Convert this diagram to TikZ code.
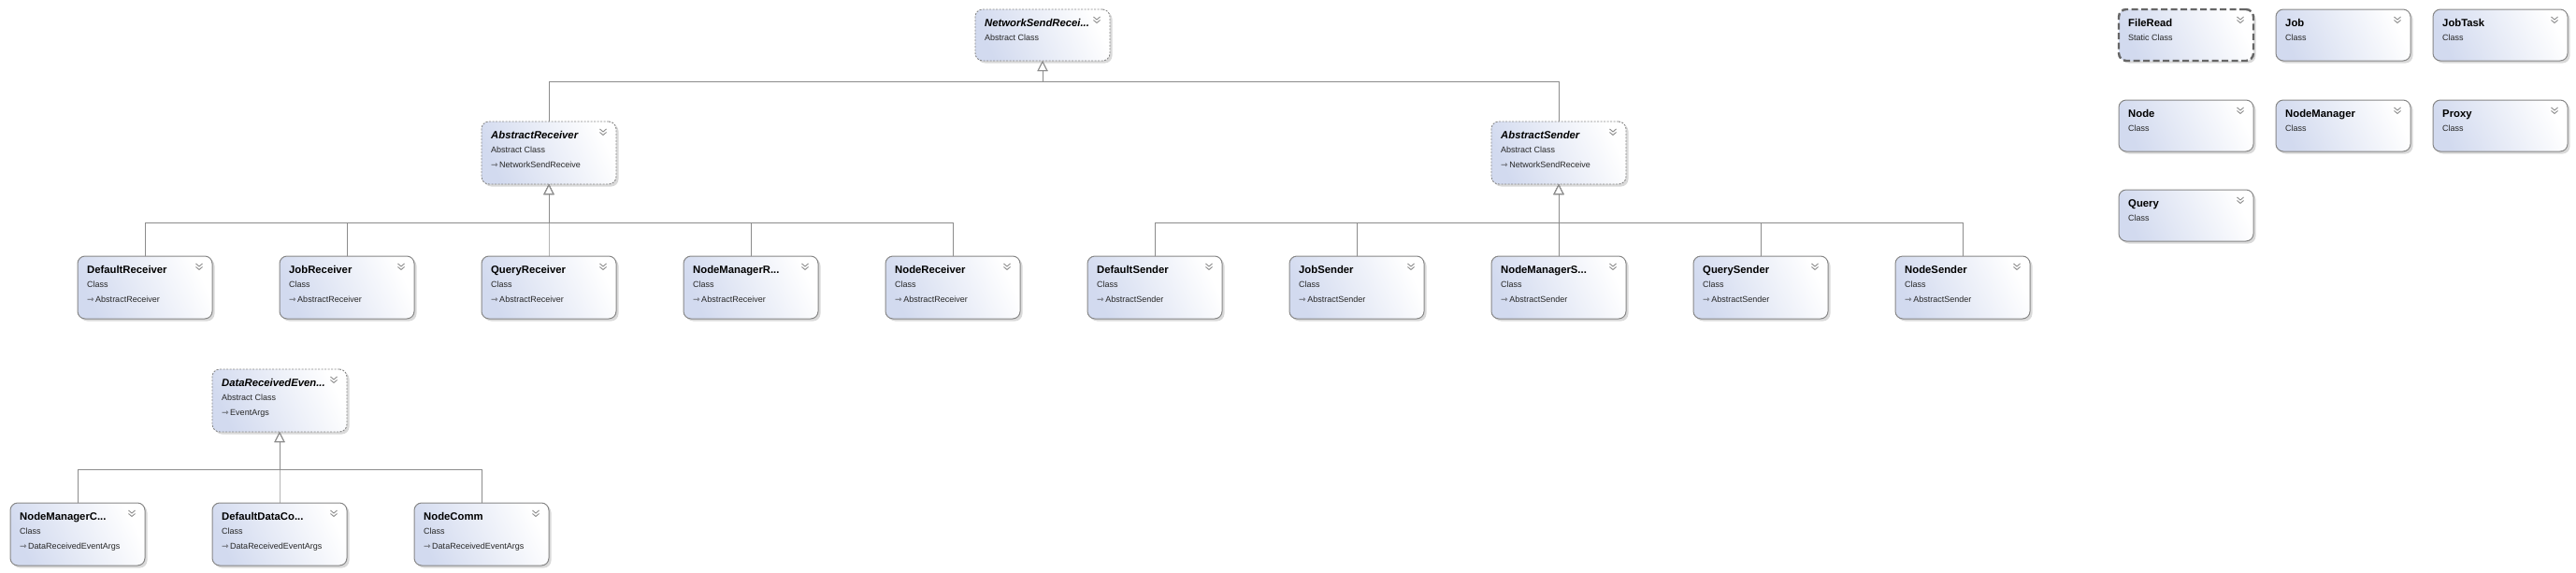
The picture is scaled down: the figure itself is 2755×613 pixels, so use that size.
\documentclass[tikz,border=0pt]{standalone}
\usepackage{fontspec}
\setmainfont{Liberation Sans}
\newfontfamily\symfont{DejaVu Sans}
\usetikzlibrary{positioning, arrows.meta, shadows}

\definecolor{linegray}{RGB}{140,140,140}
\definecolor{boxgray}{RGB}{135,135,135}
\definecolor{boxblue}{RGB}{210,218,239}
\definecolor{chevgray}{RGB}{140,140,140}

% title, kind and base class lines of one box
\newcommand{\boxtext}[4]{%
  \node[ttl] (#1-t) at ([xshift=10pt,yshift=-18pt]#1.north west) {#2};
  \node[kind] (#1-k) at ([xshift=10pt,yshift=-33pt]#1.north west) {#3};
  \if\relax\detokenize{#4}\relax\else
  \node[kind] (#1-b) at ([xshift=10pt,yshift=-49pt]#1.north west) {{\symfont ⇾}\,#4};
  \fi}

\begin{document}
\begin{tikzpicture}[x=1pt, y=-1pt,
  umlbox/.style={rounded corners=8pt, minimum width=144pt, minimum height=67pt,
    inner sep=0pt, outer sep=0pt, anchor=north west,
    left color=boxblue, right color=white, shading angle=115,
    drop shadow={shadow xshift=2.5pt, shadow yshift=-2.5pt, fill=black!25, opacity=0.6},
    path picture={\draw[chevgray, line width=0.9pt, sharp corners, solid]
      ([xshift=-17.5pt,yshift=-8pt]path picture bounding box.north east) -- ++(3.5pt,-3pt) -- ++(3.5pt,3pt)
      ([xshift=-17.5pt,yshift=-11.5pt]path picture bounding box.north east) -- ++(3.5pt,-3pt) -- ++(3.5pt,3pt);}},
  classbox/.style={umlbox, draw=boxgray, line width=1pt},
  abstractbox/.style={umlbox, draw=boxgray, line width=0.9pt, dash pattern=on 2pt off 1.5pt},
  staticbox/.style={umlbox, draw=black!60, line width=2.4pt, dash pattern=on 7pt off 3.5pt},
  shortbox/.style={minimum height=55pt},
  ttl/.style={anchor=base west, inner sep=0pt, font=\bfseries\fontsize{11.3}{13}\selectfont},
  kind/.style={anchor=base west, inner sep=0pt, text=black!85, font=\fontsize{9}{11}\selectfont},
  inherit/.style={draw=linegray, line width=1pt, -{Triangle[length=11pt, width=11pt, fill=white]}}
]
\useasboundingbox (0,0) rectangle (2755,613);

% network hierarchy
\node[abstractbox, shortbox] (nsr) at (1043,10) {};
\boxtext{nsr}{\itshape NetworkSendRecei...}{Abstract Class}{}
\node[abstractbox] (ar) at (515,130) {};
\boxtext{ar}{\itshape AbstractReceiver}{Abstract Class}{NetworkSendReceive}
\node[abstractbox] (as) at (1595,130) {};
\boxtext{as}{\itshape AbstractSender}{Abstract Class}{NetworkSendReceive}

% receivers
\node[classbox] (dr) at (83,274) {};
\node[classbox, right=72pt of dr] (jr) {};
\node[classbox, right=72pt of jr] (qr) {};
\node[classbox, right=72pt of qr] (nmr) {};
\node[classbox, right=72pt of nmr] (nr) {};
\boxtext{dr}{DefaultReceiver}{Class}{AbstractReceiver}
\boxtext{jr}{JobReceiver}{Class}{AbstractReceiver}
\boxtext{qr}{QueryReceiver}{Class}{AbstractReceiver}
\boxtext{nmr}{NodeManagerR...}{Class}{AbstractReceiver}
\boxtext{nr}{NodeReceiver}{Class}{AbstractReceiver}

% senders
\node[classbox] (ds) at (1163,274) {};
\node[classbox, right=72pt of ds] (js) {};
\node[classbox, right=72pt of js] (nms) {};
\node[classbox, right=72pt of nms] (qs) {};
\node[classbox, right=72pt of qs] (ns) {};
\boxtext{ds}{DefaultSender}{Class}{AbstractSender}
\boxtext{js}{JobSender}{Class}{AbstractSender}
\boxtext{nms}{NodeManagerS...}{Class}{AbstractSender}
\boxtext{qs}{QuerySender}{Class}{AbstractSender}
\boxtext{ns}{NodeSender}{Class}{AbstractSender}

% data received events
\node[abstractbox] (dre) at (227,395) {};
\boxtext{dre}{\itshape DataReceivedEven...}{Abstract Class}{EventArgs}
\node[classbox] (nmc) at (11,538) {};
\node[classbox, right=72pt of nmc] (ddc) {};
\node[classbox, right=72pt of ddc] (nc) {};
\boxtext{nmc}{NodeManagerC...}{Class}{DataReceivedEventArgs}
\boxtext{ddc}{DefaultDataCo...}{Class}{DataReceivedEventArgs}
\boxtext{nc}{NodeComm}{Class}{DataReceivedEventArgs}

% single classes
\node[staticbox, shortbox] (fr) at (2266,10) {};
\node[classbox, shortbox, right=24pt of fr] (job) {};
\node[classbox, shortbox, right=24pt of job] (jt) {};
\node[classbox, shortbox, below=42pt of fr] (nd) {};
\node[classbox, shortbox, right=24pt of nd] (nm) {};
\node[classbox, shortbox, right=24pt of nm] (px) {};
\node[classbox, shortbox, below=41pt of nd] (qu) {};
\boxtext{fr}{FileRead}{Static Class}{}
\boxtext{job}{Job}{Class}{}
\boxtext{jt}{JobTask}{Class}{}
\boxtext{nd}{Node}{Class}{}
\boxtext{nm}{NodeManager}{Class}{}
\boxtext{px}{Proxy}{Class}{}
\boxtext{qu}{Query}{Class}{}

% inheritance
\coordinate (busT) at ([yshift=-22pt]nsr.south);
\coordinate (busR) at ([yshift=-41pt]ar.south);
\coordinate (busS) at ([yshift=-41pt]as.south);
\coordinate (busD) at ([yshift=-40pt]dre.south);
\draw[inherit] (ar.north) |- (busT) -- (nsr.south);
\draw[inherit] (as.north) |- (busT) -- (nsr.south);
\foreach \c in {dr,jr,qr,nmr,nr}
  \draw[inherit] (\c.north) |- (busR) -- (ar.south);
\foreach \c in {ds,js,nms,qs,ns}
  \draw[inherit] (\c.north) |- (busS) -- (as.south);
\foreach \c in {nmc,ddc,nc}
  \draw[inherit] (\c.north) |- (busD) -- (dre.south);
\end{tikzpicture}
\end{document}
